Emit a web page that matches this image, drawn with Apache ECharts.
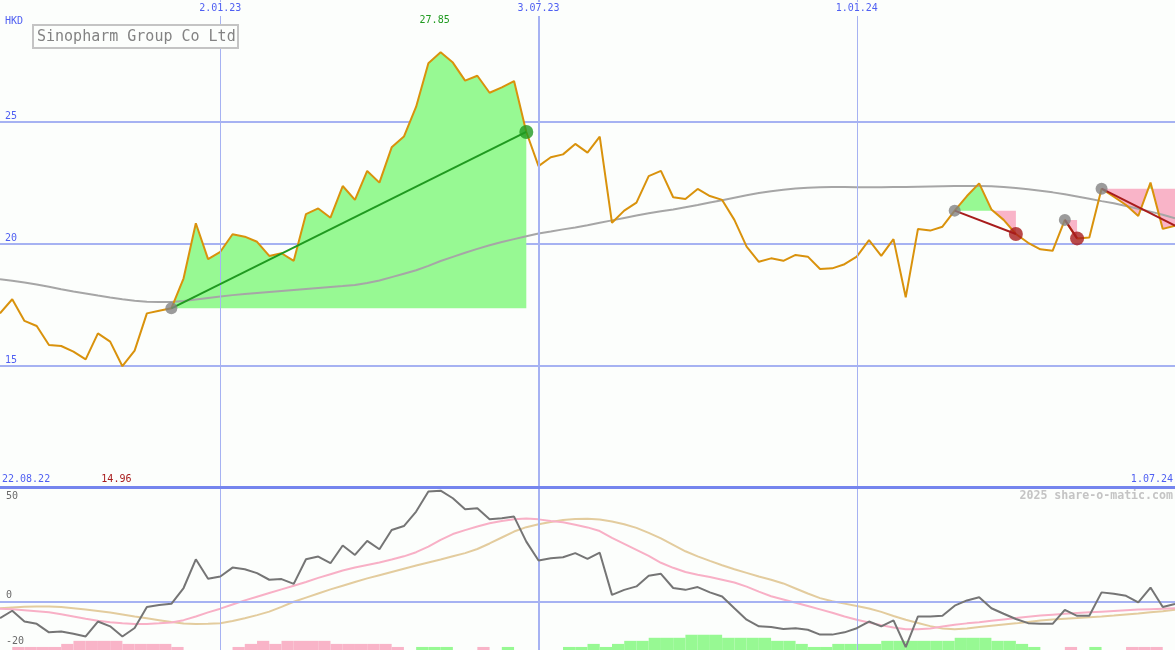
<!DOCTYPE html>
<html><head><meta charset="utf-8">
<script src="https://cdn.jsdelivr.net/npm/echarts@6/dist/echarts.min.js"></script>
<style>html,body{margin:0;padding:0;background:#fcfefc}#c{width:1175px;height:650px}</style>
</head><body><div id="c"></div>
<script>
// ---------- DATA ----------
const title = 'Sinopharm Group Co Ltd';
const currency = 'HKD';
const rangeLabels = ['22.08.22', '1.07.24'];
const tickDates = ['2.01.23', '3.07.23', '1.01.24'];
const watermark = '2025 share-o-matic.com';

// weekly dates (Mondays) 29.08.22 ... 1.07.24
const dates = [];
(function () {
  const d0 = Date.UTC(2022, 7, 29);
  for (let i = 0; i < 97; i++) {
    const t = new Date(d0 + i * 7 * 864e5);
    dates.push(t.getUTCDate() + '.' + String(t.getUTCMonth() + 1).padStart(2, '0') + '.' + String(t.getUTCFullYear()).slice(2));
  }
})();

const price = [
  17.13, 17.71, 16.82, 16.61, 15.83, 15.79, 15.56, 15.24, 16.31, 15.97,
  14.96, 15.60, 17.13, 17.24, 17.34, 18.57, 20.83, 19.36, 19.66, 20.38,
  20.28, 20.07, 19.49, 19.60, 19.29, 21.21, 21.44, 21.06, 22.36, 21.79,
  22.98, 22.50, 23.95, 24.39, 25.62, 27.40, 27.85, 27.43, 26.69, 26.89,
  26.19, 26.41, 26.67, 24.58, 23.18, 23.54, 23.66, 24.09, 23.73, 24.39,
  20.85, 21.35, 21.68, 22.77, 22.98, 21.90, 21.83, 22.24, 21.95, 21.79,
  20.97, 19.87, 19.25, 19.39, 19.29, 19.53, 19.46, 18.95, 18.98, 19.15,
  19.46, 20.14, 19.49, 20.18, 17.79, 20.60, 20.53, 20.69, 21.35, 21.95,
  22.47, 21.40, 20.97, 20.39, 20.03, 19.76, 19.70, 20.97, 20.21, 20.25,
  22.25, 21.92, 21.58, 21.13, 22.50, 20.60, 20.73
];
const priceMA = [
  18.53, 18.47, 18.40, 18.32, 18.22, 18.12, 18.03, 17.95, 17.86, 17.78,
  17.71, 17.65, 17.61, 17.60, 17.60, 17.64, 17.70, 17.76, 17.82, 17.88,
  17.93, 17.97, 18.01, 18.05, 18.09, 18.13, 18.17, 18.21, 18.25, 18.30,
  18.38, 18.48, 18.62, 18.76, 18.90, 19.08, 19.28, 19.45, 19.62, 19.78,
  19.93, 20.06, 20.18, 20.30, 20.41, 20.49, 20.58, 20.66, 20.75, 20.85,
  20.95, 21.05, 21.15, 21.24, 21.32, 21.40, 21.49, 21.58, 21.68, 21.78,
  21.88, 21.98, 22.07, 22.15, 22.21, 22.26, 22.29, 22.31, 22.32, 22.32,
  22.31, 22.31, 22.31, 22.32, 22.32, 22.33, 22.34, 22.35, 22.36, 22.36,
  22.36, 22.35, 22.32, 22.28, 22.23, 22.17, 22.10, 22.02, 21.93, 21.84,
  21.74, 21.65, 21.54, 21.43, 21.31, 21.18, 21.04
];
const trades = [
  { entry: '5.12.22', exit: '26.06.23' },
  { entry: '26.02.24', exit: '1.04.24' },
  { entry: '29.04.24', exit: '6.05.24' },
  { entry: '20.05.24', exit: null }
];

const momentum = [
  -7.1, -3.9, -8.6, -9.6, -13.3, -12.9, -13.9, -15.1, -8.6, -10.7,
  -15.1, -11.4, -2.3, -1.4, -0.9, 6.0, 18.5, 10.0, 11.0, 14.9,
  14.2, 12.5, 9.6, 9.9, 7.8, 18.5, 19.7, 16.8, 24.5, 20.4,
  26.5, 22.9, 31.3, 33.0, 39.3, 48.0, 48.4, 45.1, 40.3, 40.7,
  36.0, 36.4, 37.1, 26.2, 18.0, 19.0, 19.4, 21.2, 18.7, 21.4,
  3.0, 5.2, 6.7, 11.3, 12.2, 6.0, 5.2, 6.4, 4.1, 2.3,
  -2.8, -7.8, -10.7, -11.0, -11.9, -11.5, -12.2, -14.3, -14.3, -13.3,
  -11.5, -8.6, -10.7, -8.1, -19.7, -6.4, -6.4, -6.1, -1.7, 0.6,
  2.0, -2.8, -5.2, -7.5, -9.3, -9.6, -9.6, -3.5, -6.1, -6.1,
  4.1, 3.5, 2.6, -0.3, 6.2, -2.3, -0.9
];
const signalFast = [
  -3.0, -3.3, -3.7, -4.1, -4.6, -5.4, -6.4, -7.4, -8.3, -8.9,
  -9.4, -9.7, -9.7, -9.4, -9.0, -8.0, -6.4, -4.6, -3.0, -1.2,
  0.6, 2.2, 3.8, 5.4, 7.0, 8.6, 10.4, 12.0, 13.6, 14.9,
  16.0, 17.1, 18.4, 19.8, 21.6, 24.0, 27.0, 29.5, 31.2, 32.8,
  34.2, 35.2, 36.0, 36.3, 35.9, 35.2, 34.6, 33.6, 32.4, 30.8,
  27.8, 25.2, 22.6, 20.0, 17.0, 14.8, 13.0, 11.8, 10.8, 9.6,
  8.4, 6.6, 4.4, 2.4, 1.0, -0.4, -1.8, -3.3, -4.8, -6.4,
  -7.8, -9.0, -10.2, -11.2, -12.0, -12.0, -11.6, -10.8, -10.0, -9.4,
  -8.9, -8.3, -7.7, -7.1, -6.5, -6.0, -5.6, -5.2, -4.9, -4.6,
  -4.3, -4.0, -3.7, -3.4, -3.2, -3.0, -2.8
];
const signalSlow = [
  -2.8, -2.5, -2.2, -2.0, -2.0, -2.3, -2.8, -3.4, -4.0, -4.7,
  -5.5, -6.4, -7.2, -8.0, -8.8, -9.5, -9.7, -9.6, -9.3, -8.4,
  -7.2, -5.8, -4.3, -2.2, 0.0, 1.8, 3.6, 5.4, 7.0, 8.6,
  10.2, 11.6, 13.0, 14.4, 15.8, 17.1, 18.4, 19.8, 21.2, 23.0,
  25.4, 28.0, 30.6, 32.5, 33.8, 34.8, 35.6, 36.1, 36.2, 35.8,
  35.0, 33.8, 32.2, 30.0, 27.6, 24.8, 22.0, 19.8, 17.8, 15.9,
  14.2, 12.6, 11.0, 9.6, 8.0, 5.8, 3.6, 1.6, 0.2, -0.8,
  -1.8, -2.9, -4.4, -6.2, -7.8, -9.2, -10.6, -11.6, -12.0, -11.6,
  -11.0, -10.4, -9.9, -9.4, -8.8, -8.2, -7.7, -7.4, -7.1, -6.7,
  -6.4, -6.0, -5.5, -5.1, -4.6, -4.1, -3.5
];
// histogram levels for each week-to-week interval (negative = pink, positive = green)
const histLevels = [
  0, -1, -1, -1, -1, -2, -3, -3, -3, -3,
  -2, -2, -2, -2, -1, 0, 0, 0, 0, -1,
  -2, -3, -2, -3, -3, -3, -3, -2, -2, -2,
  -2, -2, -1, 0, 1, 1, 1, 0, 0, -1,
  0, 1, 0, 0, 0, 0, 1, 1, 2, 1,
  2, 3, 3, 4, 4, 4, 5, 5, 5, 4,
  4, 4, 4, 3, 3, 2, 1, 1, 2, 2,
  2, 2, 3, 3, 3, 3, 3, 3, 4, 4,
  4, 3, 3, 2, 1, 0, 0, -1, 0, 1,
  0, 0, -1, -1, -1, 0
];
const oscLabels = [50, 0, -20];

// ---------- STYLE ----------
const BG = '#fcfefc';
const FONT = '"DejaVu Sans Mono", monospace';
const BLUE_T = '#4f5ff2';
const GRID_C = '#a6b2f2';
const SEP_C = '#7585ee';
const GREEN_F = '#97f993';
const PINK_F = '#f9b4c8';
const UP_C = '#209a20';
const DOWN_C = '#a81c1c';
const last = dates.length - 1;

const tradeIdx = trades.map(t => {
  const a = dates.indexOf(t.entry);
  const b = t.exit ? dates.indexOf(t.exit) : last;
  return { a, b, open: !t.exit, win: price[b] >= price[a] };
});

function renderFill(params, api) {
  const t = tradeIdx[params.dataIndex];
  const E = price[t.a];
  const pieces = [];
  let cur = { pts: [[t.a, E]], up: null };
  for (let i = t.a; i < t.b; i++) {
    const a = price[i] - E, b = price[i + 1] - E;
    if (cur.up === null) cur.up = b >= 0;
    if (a !== 0 && b !== 0 && (a > 0) !== (b > 0)) {
      const xc = i + a / (a - b);
      cur.pts.push([xc, E]);
      pieces.push(cur);
      cur = { pts: [[xc, E]], up: b > 0 };
    }
    cur.pts.push([i + 1, price[i + 1]]);
  }
  cur.pts.push([t.b, E]);
  pieces.push(cur);
  return {
    type: 'group',
    children: pieces.map(p => ({
      type: 'polygon',
      shape: { points: p.pts.map(q => api.coord(q)) },
      style: { fill: p.up ? GREEN_F : PINK_F }
    }))
  };
}

const vLines = tickDates.map(d => ({ xAxis: dates.indexOf(d), lineStyle: { width: d === '3.07.23' ? 2 : 1 } }));
const pts = arr => arr.map((v, i) => [i, v]);

const series = [
  { // vertical grid lines, main panel
    type: 'line', xAxisIndex: 1, yAxisIndex: 0, data: pts(price), z: 1, silent: true,
    showSymbol: false, lineStyle: { opacity: 0 },
    markLine: { silent: true, symbol: ['none', 'none'], label: { show: false }, animation: false,
      lineStyle: { color: GRID_C, type: 'solid' }, data: vLines }
  },
  { type: 'custom', xAxisIndex: 1, yAxisIndex: 0, z: 2, silent: true, clip: true,
    renderItem: renderFill, data: tradeIdx.map(t => [t.a, price[t.a]]) },
  { type: 'line', xAxisIndex: 1, yAxisIndex: 0, data: pts(priceMA), z: 3, showSymbol: false, silent: true,
    lineStyle: { color: '#a6a6a6', width: 2 } },
  { type: 'line', xAxisIndex: 1, yAxisIndex: 0, data: pts(price), z: 4, showSymbol: false, silent: true,
    lineStyle: { color: '#d9920c', width: 2 } }
];
tradeIdx.forEach(t => {
  series.push({ type: 'line', xAxisIndex: 1, yAxisIndex: 0, z: 5, showSymbol: false, silent: true,
    data: [[t.a, price[t.a]], [t.b, price[t.b]]],
    lineStyle: { color: t.win ? UP_C : DOWN_C, width: 2 } });
});
series.push({ type: 'scatter', xAxisIndex: 1, yAxisIndex: 0, z: 6, silent: true, symbolSize: 12,
  itemStyle: { color: '#828282' }, data: tradeIdx.map(t => [t.a, price[t.a]]) });
series.push({ type: 'scatter', xAxisIndex: 1, yAxisIndex: 0, z: 6, silent: true, symbolSize: 14,
  data: tradeIdx.filter(t => !t.open).map(t => ({ value: [t.b, price[t.b]], itemStyle: { color: t.win ? UP_C : DOWN_C } })) });

// lower panel
series.push({ type: 'line', xAxisIndex: 2, yAxisIndex: 1, data: pts(momentum), z: 1, silent: true,
  showSymbol: false, lineStyle: { opacity: 0 },
  markLine: { silent: true, symbol: ['none', 'none'], label: { show: false }, animation: false,
    lineStyle: { color: GRID_C, type: 'solid' },
    data: vLines.concat([{ yAxis: 0, lineStyle: { width: 2 } }]) } });
series.push({ type: 'bar', xAxisIndex: 3, yAxisIndex: 2, z: 2, silent: true, barCategoryGap: '0%',
  data: histLevels.map(l => ({ value: Math.abs(l), itemStyle: { color: l < 0 ? PINK_F : GREEN_F } })) });
series.push({ type: 'line', xAxisIndex: 2, yAxisIndex: 1, data: pts(signalSlow), z: 3, showSymbol: false, silent: true,
  lineStyle: { color: '#e3cc9e', width: 2 } });
series.push({ type: 'line', xAxisIndex: 2, yAxisIndex: 1, data: pts(signalFast), z: 4, showSymbol: false, silent: true,
  lineStyle: { color: '#f8b0c6', width: 2 } });
series.push({ type: 'line', xAxisIndex: 2, yAxisIndex: 1, data: pts(momentum), z: 5, showSymbol: false, silent: true,
  lineStyle: { color: '#757575', width: 2 } });

const option = {
  backgroundColor: BG,
  animation: false,
  grid: [
    { left: 0, right: 0, top: 0, height: 487, containLabel: false, outerBoundsMode: 'none' },
    { left: 0, right: 0, top: 487, height: 163, containLabel: false, outerBoundsMode: 'none' }
  ],
  xAxis: [
    { gridIndex: 0, type: 'category', data: dates, boundaryGap: false, position: 'top', z: 7,
      axisLine: { show: false }, axisTick: { show: false }, splitLine: { show: false },
      axisLabel: { inside: true, margin: 2, color: BLUE_T, fontFamily: FONT, fontSize: 10,
        backgroundColor: BG, padding: [1, 2, 3, 2],
        interval: (i, v) => tickDates.includes(v), hideOverlap: false } },
    { gridIndex: 0, type: 'value', min: 0, max: last, show: false },
    { gridIndex: 1, type: 'value', min: 0, max: last, position: 'top', z: 7,
      axisLine: { show: true, onZero: false, lineStyle: { color: SEP_C, width: 3 } },
      axisTick: { show: false }, axisLabel: { show: false }, splitLine: { show: false } },
    { gridIndex: 1, type: 'category', data: dates.slice(1), boundaryGap: true, show: false }
  ],
  yAxis: [
    { gridIndex: 0, type: 'value', min: 10, max: 30, interval: 5,
      axisLine: { show: false }, axisTick: { show: false },
      axisLabel: { inside: true, margin: 5, verticalAlign: 'bottom', color: BLUE_T, fontFamily: FONT, fontSize: 10,
        showMinLabel: false, showMaxLabel: false },
      splitLine: { show: true, showMinLine: false, showMaxLine: false, lineStyle: { color: GRID_C, width: 2 } } },
    { gridIndex: 1, type: 'value', min: -21, max: 50, show: false },
    { gridIndex: 1, type: 'value', min: 0, max: 163 / 3.05, show: false }
  ],
  series
};

const chart = echarts.init(document.getElementById('c'), null, { renderer: 'canvas' });
chart.setOption(option);

const pMax = Math.max(...price), pMin = Math.min(...price);
const xMax = chart.convertToPixel({ xAxisIndex: 1 }, price.indexOf(pMax));
const xMin = chart.convertToPixel({ xAxisIndex: 1 }, price.indexOf(pMin));
const txt = (x, y, text, fill, extra) => Object.assign({ type: 'text', x, y, z: 10, silent: true,
  style: Object.assign({ text, fill, font: '10px ' + FONT, align: 'left', verticalAlign: 'middle' }, extra || {}) });
const g = [
  { type: 'rect', z: 10, silent: true, shape: { x: 33, y: 25, width: 205, height: 23 },
    style: { fill: BG, stroke: '#c4c4c4', lineWidth: 2 } },
  txt(37, 37, title, '#838383', { font: '15px ' + FONT }),
  txt(5, 21, currency, BLUE_T),
  txt(xMax - 6, 20, pMax.toFixed(2), UP_C, { align: 'center' }),
  txt(xMin - 6, 479, pMin.toFixed(2), DOWN_C, { align: 'center' }),
  txt(2, 479, rangeLabels[0], BLUE_T),
  txt(1173, 479, rangeLabels[1], BLUE_T, { align: 'right' }),
  txt(1173, 496, watermark, '#c4c4c4', { align: 'right', font: 'bold 11.6px ' + FONT })
];
oscLabels.forEach(v => {
  const py = chart.convertToPixel({ yAxisIndex: 1 }, v);
  g.push(txt(6, Math.max(py - 6, 496), String(v), '#6a6a6a'));
});
chart.setOption({ graphic: g });
</script>
</body></html>
